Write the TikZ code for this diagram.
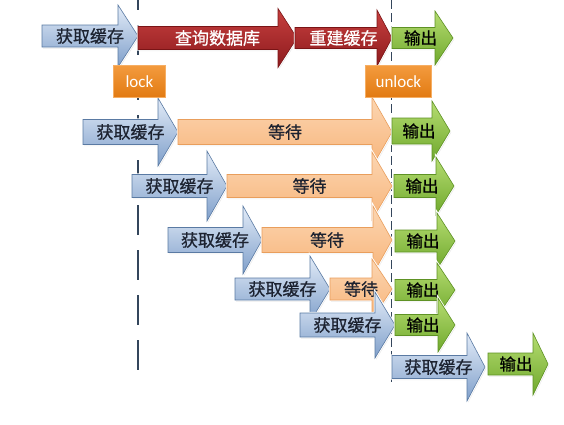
\documentclass[tikz,border=0pt]{standalone}
\usepackage{fontspec}
\setmainfont{Carlito}
\newfontfamily\cjk[FakeBold=0.7]{Noto Sans CJK SC}
\usetikzlibrary{shadows}
\definecolor{bluetop}{HTML}{E3ECF8}
\definecolor{bluebot}{HTML}{7F9FCA}
\definecolor{blueedge}{HTML}{5A7AA3}
\definecolor{redtop}{HTML}{C8403F}
\definecolor{redbot}{HTML}{8C1A1D}
\definecolor{rededge}{HTML}{7A1416}
\definecolor{peachtop}{HTML}{FCD6B2}
\definecolor{peachbot}{HTML}{F7B47A}
\definecolor{peachedge}{HTML}{E99E5C}
\definecolor{greentop}{HTML}{B6DD72}
\definecolor{greenbot}{HTML}{6FA82C}
\definecolor{greenedge}{HTML}{5E9224}
\definecolor{locktop}{HTML}{F39B3E}
\definecolor{lockbot}{HTML}{E27A12}
\definecolor{lockedge}{HTML}{F6AE63}
\definecolor{dashcol}{HTML}{34465C}
\definecolor{txtdark}{HTML}{1C2230}
\tikzset{
  arrowbase/.style={line join=miter,
    drop shadow={shadow xshift=1.2pt, shadow yshift=-1.5pt, opacity=.18},
    preaction={draw=white, line width=2.4pt}},
  cacheA/.style={arrowbase, top color=bluetop, bottom color=bluebot, draw=blueedge, line width=.6pt},
  queryA/.style={arrowbase, top color=redtop, bottom color=redbot, draw=rededge, line width=.6pt},
  waitA/.style={arrowbase, top color=peachtop, bottom color=peachbot, draw=peachedge, line width=.6pt},
  outA/.style={arrowbase, top color=greentop, bottom color=greenbot, draw=greenedge, line width=.6pt},
  cacheT/.style={font=\cjk\fontsize{17}{17}\selectfont, text=txtdark, inner sep=0pt},
  queryT/.style={font=\cjk\fontsize{17}{17}\selectfont, text=white, inner sep=0pt},
  waitT/.style={font=\cjk\fontsize{17}{17}\selectfont, text=txtdark, inner sep=0pt},
  outT/.style={font=\cjk\fontsize{16.5}{16.5}\selectfont, text=black, inner sep=0pt, xshift=-2pt},
  lockbox/.style={top color=locktop, bottom color=lockbot, draw=lockedge, line width=.8pt,
    text=white, font=\fontsize{17}{17}\selectfont, inner sep=0pt, anchor=north west},
  thickdash/.style={draw=dashcol, line width=2.6pt, dash pattern=on 30pt off 15pt, dash phase=20pt},
  thindash/.style={draw=dashcol, line width=1pt, dash pattern=on 9pt off 4pt},
}
% #1 kind, #2 name, #3 x0, #4 head start, #5 tip, #6 y centre, #7 body half, #8 head half, #9 text
\newcommand{\blkarrow}[9]{%
  \path[#1A] (#3,#6-#7) -- (#4,#6-#7) -- (#4,#6-#8) -- (#5,#6) -- (#4,#6+#8) -- (#4,#6+#7) -- (#3,#6+#7) -- cycle;
  \node[#1T] (#2) at ({(#3+#5)/2},#6) {#9};
}
\begin{document}
\begin{tikzpicture}[x=1pt,y=-1pt]
\useasboundingbox[fill=white] (0,0) rectangle (564,424);
% dashed guide lines (behind)
\coordinate (lt) at (138,0); \coordinate (lb) at (138,372);
\coordinate (rt) at (391,0); \coordinate (rb) at (391,382);
\draw[thickdash] (lt) -- (lb);
\draw[thindash] (rt) -- (rb);
% row 1
\blkarrow{cache}{c1}{42}{118}{138}{36}{11}{31}{获取缓存}
\blkarrow{query}{q1}{138}{278}{297}{38}{11.5}{29.5}{查询数据库}
\blkarrow{query}{q2}{295}{377}{392}{38}{10.5}{28}{重建缓存}
\blkarrow{out}{o1}{392}{435}{453}{38}{10.5}{27}{输出}
% row 2
\blkarrow{cache}{c2}{83}{158}{178}{132}{12.5}{34}{获取缓存}
\blkarrow{wait}{w2}{178}{372}{392}{132}{12.5}{35}{等待}
\blkarrow{out}{o2}{392}{432}{450}{131}{13}{30}{输出}
% row 3
\blkarrow{cache}{c3}{132}{207}{227}{186}{11.5}{35}{获取缓存}
\blkarrow{wait}{w3}{227}{372}{392}{186}{11.5}{34}{等待}
\blkarrow{out}{o3}{394}{436}{454}{186}{11.5}{29}{输出}
% row 4
\blkarrow{cache}{c4}{168}{243}{262}{240}{12.5}{34}{获取缓存}
\blkarrow{wait}{w4}{262}{373}{392}{240}{12.5}{34}{等待}
\blkarrow{out}{o4}{395}{437}{455}{241}{11}{28}{输出}
% row 5
\blkarrow{cache}{c5}{235}{310}{330}{289}{11}{33}{获取缓存}
\blkarrow{wait}{w5}{330}{372}{392}{289}{11}{30}{等待}
\blkarrow{out}{o5}{395}{437}{455}{290}{10.5}{27}{输出}
% row 6
\blkarrow{cache}{c6}{300}{375}{395}{325}{12}{33}{获取缓存}
\blkarrow{out}{o6}{395}{438}{455}{325}{10.5}{27}{输出}
% row 7
\blkarrow{cache}{c7}{392}{467}{485}{367}{11.5}{34}{获取缓存}
\blkarrow{out}{o7}{488}{533}{548}{364}{11}{31}{输出}
% lock boxes
\node[lockbox, minimum width=52pt, minimum height=32pt] (lock) at (113,65) {lock};
\node[lockbox, minimum width=66pt, minimum height=32pt] (unlock) at (365,65) {unlock};
\end{tikzpicture}
\end{document}
